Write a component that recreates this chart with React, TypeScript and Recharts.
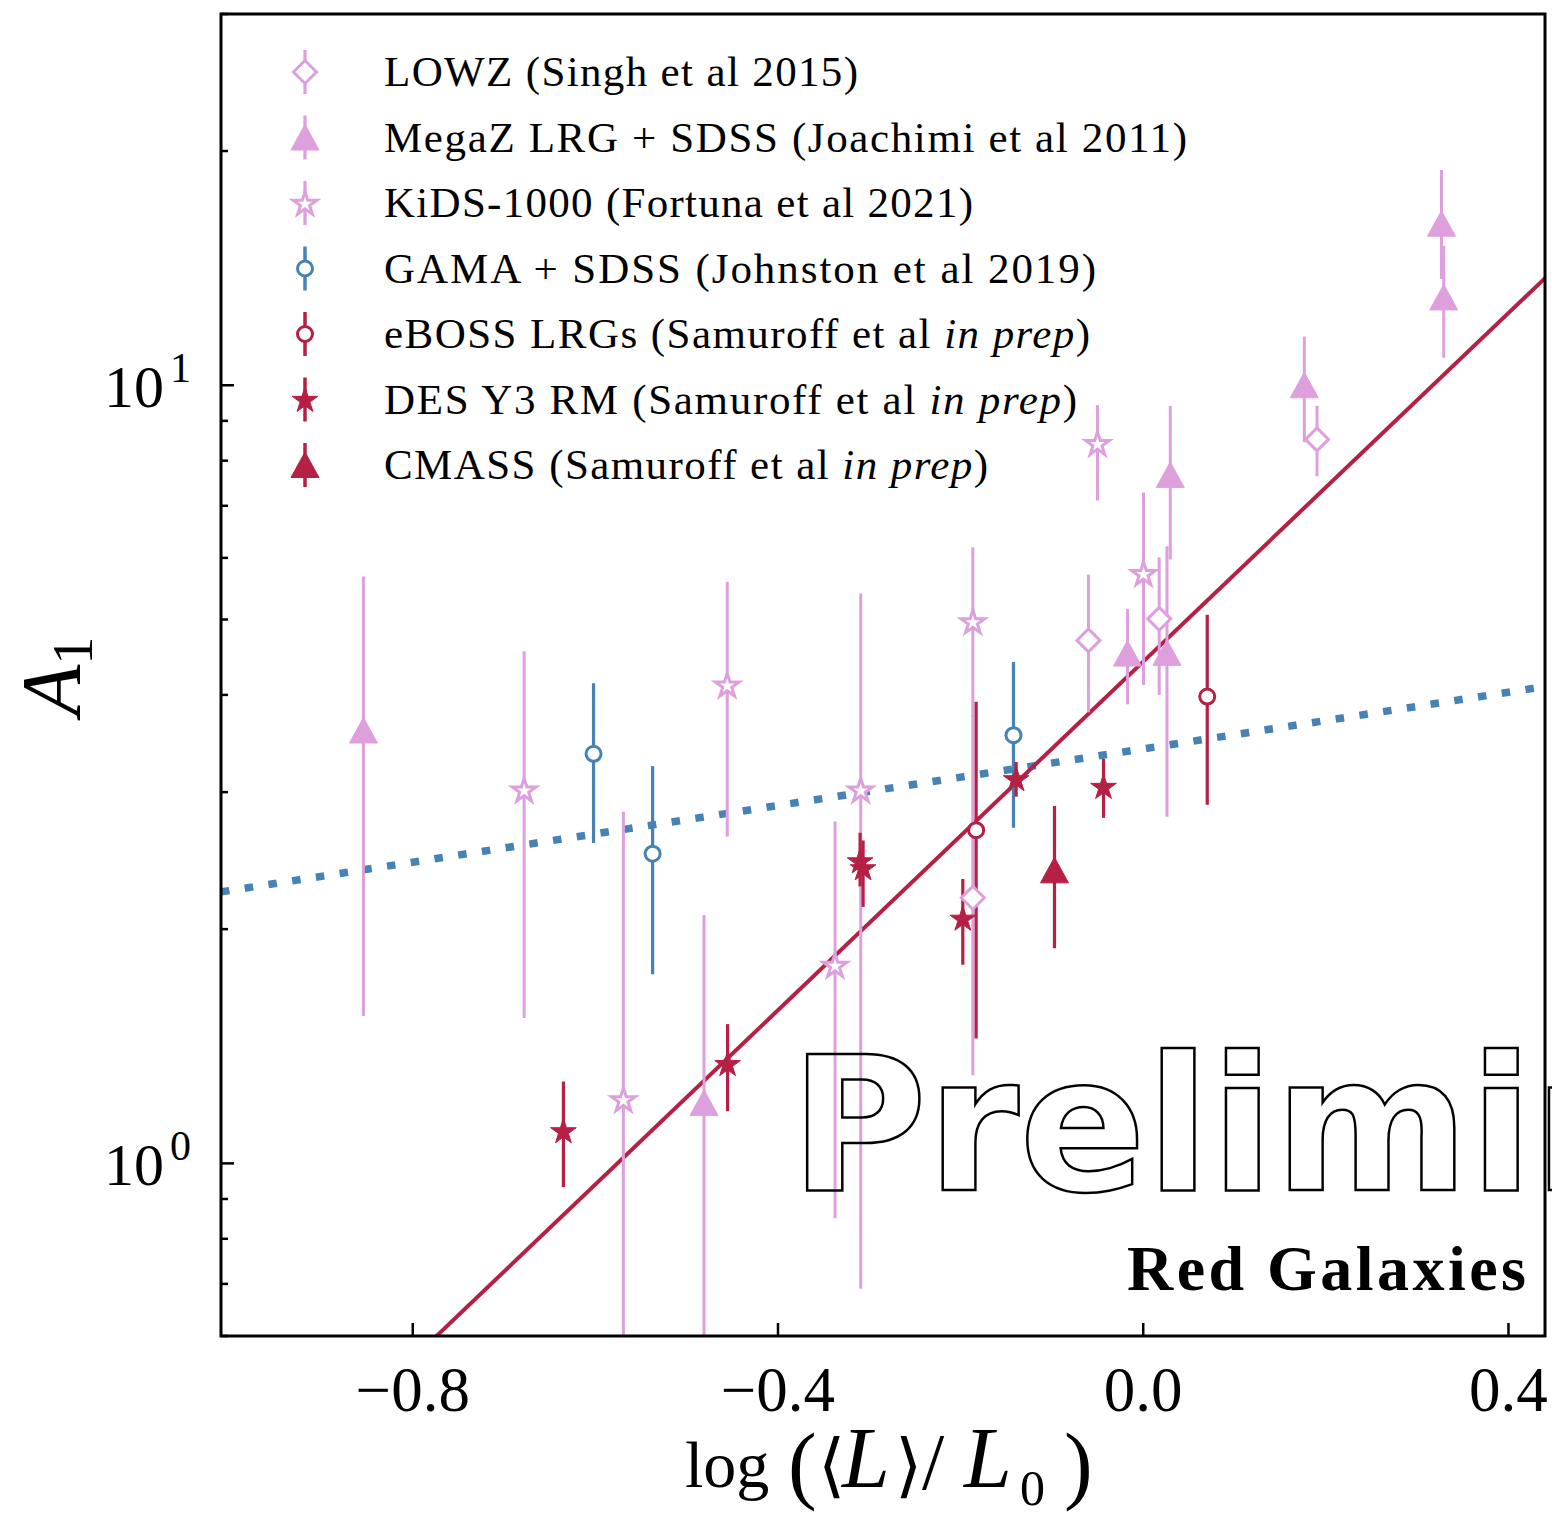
import React from "react";
import { ComposedChart, Scatter, Line, XAxis, YAxis, ErrorBar } from "recharts";

const W = 1552;
const H = 1517;
const plot = { left: 221, top: 14, right: 1545, bottom: 1336 };

const PINK = "#DDA0DD";
const RED = "#B52044";
const BLUE = "#4682B4";
const SERIF = "'Liberation Serif', 'Times New Roman', serif";

// LOWZ (Singh et al 2015)
const lowzX = [-0.06, 0.0175, -0.1866, 0.1903];
const lowzY = [4.7, 5.01, 2.195, 8.52];
const lowzLo = [3.8, 4.0, 1.298, 7.64];
const lowzHi = [5.71, 6.01, 3.77, 9.41];

// MegaZ LRG + SDSS (Joachimi et al 2011)
const megazX = [-0.854, -0.481, -0.0172, 0.026, 0.0296, 0.1764, 0.3266, 0.3291];
const megazY = [3.6, 1.196, 4.52, 4.53, 7.67, 10.0, 16.13, 12.97];
const megazLo = [1.547, 0.6, 3.89, 2.79, 5.97, 8.45, 13.69, 10.85];
const megazHi = [5.68, 2.085, 5.16, 6.21, 9.41, 11.55, 18.91, 15.11];

// KiDS-1000 (Fortuna et al 2021)
const kidsX = [-0.678, -0.5693, -0.4556, -0.3375, -0.3094, -0.1866, -0.0501, 0.0003];
const kidsY = [3.02, 1.208, 4.12, 1.798, 3.02, 4.97, 8.42, 5.73];
const kidsLo = [1.538, 0.6, 2.63, 0.85, 0.69, 3.75, 7.11, 4.12];
const kidsHi = [4.55, 2.83, 5.59, 2.75, 5.4, 6.19, 9.43, 7.28];

// GAMA + SDSS (Johnston et al 2019)
const gamaX = [-0.602, -0.5373, -0.1421];
const gamaY = [3.36, 2.5, 3.55];
const gamaLo = [2.58, 1.75, 2.7];
const gamaHi = [4.14, 3.24, 4.41];

// eBOSS LRGs
const ebossX = [-0.183, 0.0701];
const ebossY = [2.68, 3.98];
const ebossLo = [1.447, 2.89];
const ebossHi = [3.92, 5.07];

// DES Y3 redMaGiC
const desX = [-0.635, -0.4552, -0.3101, -0.3068, -0.1976, -0.1392, -0.0435];
const desY = [1.101, 1.343, 2.447, 2.397, 2.065, 3.12, 3.05];
const desLo = [0.932, 1.167, 2.27, 2.136, 1.8, 2.96, 2.78];
const desHi = [1.274, 1.51, 2.66, 2.6, 2.32, 3.28, 3.31];

// CMASS
const cmassX = [-0.0972];
const cmassY = [2.38];
const cmassLo = [1.89];
const cmassHi = [2.88];

// power-law fits, end points over the x range
const fitX = [-1.01, 0.44];
const redFitY = [0.3264, 13.73];
const blueFitY = [2.233, 4.1];

const xTicks = [-0.8, -0.4, 0.0, 0.4];
const yTicks = [0.6, 0.7, 0.8, 0.9, 1, 2, 3, 4, 5, 6, 7, 8, 9, 10, 20, 30];

const legendNames = [
  "LOWZ (Singh et al 2015)",
  "MegaZ LRG + SDSS (Joachimi et al 2011)",
  "KiDS-1000 (Fortuna et al 2021)",
  "GAMA + SDSS (Johnston et al 2019)",
  "eBOSS LRGs (Samuroff et al ",
  "DES Y3 RM (Samuroff et al ",
  "CMASS (Samuroff et al ",
];
const legendPrep = [false, false, false, false, true, true, true];
const legendWidths = [474, 803, 589, 712, 706, 693, 604];

type Pt = { x: number; y: number; err: [number, number] };

const toPoints = (xs: number[], ys: number[], lo: number[], hi: number[]): Pt[] =>
  xs.map((x, i) => ({ x, y: ys[i], err: [ys[i] - lo[i], hi[i] - ys[i]] }));

const toLine = (xs: number[], ys: number[]) => xs.map((x, i) => ({ x, y: ys[i] }));

const starPoints = (cx: number, cy: number, r: number) => {
  const pts: string[] = [];
  for (let i = 0; i < 10; i++) {
    const rr = i % 2 === 0 ? r : r * 0.382;
    const a = -Math.PI / 2 + (i * Math.PI) / 5;
    pts.push(`${cx + rr * Math.cos(a)},${cy + rr * Math.sin(a)}`);
  }
  return pts.join(" ");
};

// marker shapes
const Diamond = ({ cx, cy }: any) => (
  <polygon
    points={`${cx},${cy - 11.5} ${cx + 11.5},${cy} ${cx},${cy + 11.5} ${cx - 11.5},${cy}`}
    fill="#fff"
    stroke={PINK}
    strokeWidth={3}
  />
);
const triangle = (color: string) => ({ cx, cy }: any) => (
  <polygon
    points={`${cx},${cy - 13} ${cx + 14},${cy + 12.5} ${cx - 14},${cy + 12.5}`}
    fill={color}
    stroke={color}
    strokeWidth={1}
  />
);
const OpenStar = ({ cx, cy }: any) => (
  <polygon points={starPoints(cx, cy + 1, 12.5)} fill="#fff" stroke={PINK} strokeWidth={3} strokeLinejoin="miter" />
);
const FilledStar = ({ cx, cy }: any) => (
  <polygon points={starPoints(cx, cy + 1, 13.5)} fill={RED} stroke={RED} strokeWidth={1} />
);
const openCircle = (color: string) => ({ cx, cy }: any) => (
  <circle cx={cx} cy={cy} r={7.5} fill="#fff" stroke={color} strokeWidth={3} />
);

const series = [
  { key: "lowz", data: toPoints(lowzX, lowzY, lowzLo, lowzHi), color: PINK, shape: Diamond, ew: 3 },
  { key: "megaz", data: toPoints(megazX, megazY, megazLo, megazHi), color: PINK, shape: triangle(PINK), ew: 3 },
  { key: "kids", data: toPoints(kidsX, kidsY, kidsLo, kidsHi), color: PINK, shape: OpenStar, ew: 3 },
  { key: "gama", data: toPoints(gamaX, gamaY, gamaLo, gamaHi), color: BLUE, shape: openCircle(BLUE), ew: 3.2 },
  { key: "eboss", data: toPoints(ebossX, ebossY, ebossLo, ebossHi), color: RED, shape: openCircle(RED), ew: 3.2 },
  { key: "des", data: toPoints(desX, desY, desLo, desHi), color: RED, shape: FilledStar, ew: 3.2 },
  { key: "cmass", data: toPoints(cmassX, cmassY, cmassLo, cmassHi), color: RED, shape: triangle(RED), ew: 3.2 },
];

const XTick = (props: any) => {
  const { x, payload } = props;
  const v = payload.value as number;
  const label = (v < 0 ? "\u2212" : "") + Math.abs(v).toFixed(1);
  return (
    <g>
      <line x1={x} x2={x} y1={plot.bottom} y2={plot.bottom - 13} stroke="#000" strokeWidth={2.5} />
      <text x={x} y={1411} textAnchor="middle" fontFamily={SERIF} fontSize={63} fill="#000">
        {label}
      </text>
    </g>
  );
};

const YTick = (props: any) => {
  const { y, payload } = props;
  const v = payload.value as number;
  const exp = Math.log10(v);
  const major = Math.abs(exp - Math.round(exp)) < 1e-9;
  return (
    <g>
      <line x1={plot.left} x2={plot.left + (major ? 13 : 7)} y1={y} y2={y} stroke="#000" strokeWidth={2.5} />
      {major && (
        <g fontFamily={SERIF} fill="#000">
          <text x={164} y={y + 22} textAnchor="end" fontSize={60}>
            10
          </text>
          <text x={170} y={y - 3} fontSize={42}>
            {Math.round(exp)}
          </text>
        </g>
      )}
    </g>
  );
};

const LegendMarker = ({ i, cx, cy }: { i: number; cx: number; cy: number }) => {
  const s = series[i];
  const Shape = s.shape as any;
  return (
    <g>
      <line x1={cx} x2={cx} y1={cy - 22} y2={cy + 22} stroke={s.color} strokeWidth={s.ew + 0.3} />
      <Shape cx={cx} cy={cy} />
    </g>
  );
};

const Overlay = () => (
  <svg width={W} height={H} style={{ position: "absolute", left: 0, top: 0, pointerEvents: "none" }}>
    <text
      x={790}
      y={1190}
      fontFamily="'DejaVu Sans', sans-serif"
      fontWeight="bold"
      fontSize={187}
      fill="none"
      stroke="#000"
      strokeWidth={2.5}
    >
      Preliminary
    </text>
    <rect
      x={plot.left}
      y={plot.top}
      width={plot.right - plot.left}
      height={plot.bottom - plot.top}
      fill="none"
      stroke="#000"
      strokeWidth={3}
    />
    {legendNames.map((name, i) => {
      const cy = 72 + i * 65.5;
      return (
        <g key={name}>
          <LegendMarker i={i} cx={305} cy={cy} />
          <text
            x={384}
            y={cy + 14}
            fontFamily={SERIF}
            fontSize={43}
            fill="#000"
            textLength={legendWidths[i]}
            lengthAdjust="spacing"
          >
            {name}
            {legendPrep[i] && <tspan fontStyle="italic">in prep</tspan>}
            {legendPrep[i] && ")"}
          </text>
        </g>
      );
    })}
    <text
      x={1127}
      y={1290}
      fontFamily={SERIF}
      fontWeight="bold"
      fontSize={64}
      fill="#000"
      textLength={399}
      lengthAdjust="spacing"
    >
      Red Galaxies
    </text>
    <text fontFamily={SERIF} fill="#000" fontSize={66} y={1487}>
      <tspan x={685} y={1487}>log</tspan>
      <tspan x={788} y={1493} fontSize={86}>(</tspan>
      <tspan x={818} y={1489} fontSize={70}>{"\u27E8"}</tspan>
      <tspan x={842} y={1487} fontSize={86} fontStyle="italic">L</tspan>
      <tspan x={895} y={1489} fontSize={70}>{"\u27E9"}</tspan>
      <tspan x={922} y={1489} fontSize={80}>/</tspan>
      <tspan x={964} y={1487} fontSize={86} fontStyle="italic">L</tspan>
      <tspan x={1020} y={1505} fontSize={50}>0</tspan>
      <tspan x={1064} y={1493} fontSize={86}>)</tspan>
    </text>
    <g transform="translate(80, 716) rotate(-90)" fontFamily={SERIF} fill="#000">
      <text x={0} y={0}>
        <tspan fontStyle="italic" fontSize={84}>A</tspan>
        <tspan fontSize={56} dy={12}>1</tspan>
      </text>
    </g>
  </svg>
);

export default function App() {
  return (
    <div style={{ position: "absolute", left: 0, top: 0, width: W, height: H, overflow: "hidden", background: "#fff" }}>
      <ComposedChart
        width={W}
        height={H}
        margin={{ top: plot.top, right: W - plot.right, left: plot.left - 60, bottom: H - plot.bottom - 60 }}
      >
        <XAxis
          type="number"
          dataKey="x"
          domain={[-1.01, 0.44]}
          allowDataOverflow
          ticks={xTicks}
          interval={0}
          height={60}
          axisLine={false}
          tickLine={false}
          tick={<XTick />}
        />
        <YAxis
          type="number"
          dataKey="y"
          scale="log"
          domain={[0.6, 30]}
          allowDataOverflow
          ticks={yTicks}
          interval={0}
          width={60}
          axisLine={false}
          tickLine={false}
          tick={<YTick />}
        />
        <Line
          data={toLine(fitX, blueFitY)}
          dataKey="y"
          type="linear"
          stroke={BLUE}
          strokeWidth={7.5}
          strokeDasharray="8.5 15.5"
          strokeLinecap="butt"
          dot={false}
          isAnimationActive={false}
          legendType="none"
        />
        <Line
          data={toLine(fitX, redFitY)}
          dataKey="y"
          type="linear"
          stroke={RED}
          strokeWidth={4}
          dot={false}
          isAnimationActive={false}
          legendType="none"
        />
        {series.map((s) => (
          <Scatter key={s.key} name={s.key} data={s.data} dataKey="y" shape={s.shape as any} isAnimationActive={false}>
            <ErrorBar dataKey="err" direction="y" width={0} stroke={s.color} strokeWidth={s.ew} isAnimationActive={false} />
          </Scatter>
        ))}
      </ComposedChart>
      <Overlay />
    </div>
  );
}
